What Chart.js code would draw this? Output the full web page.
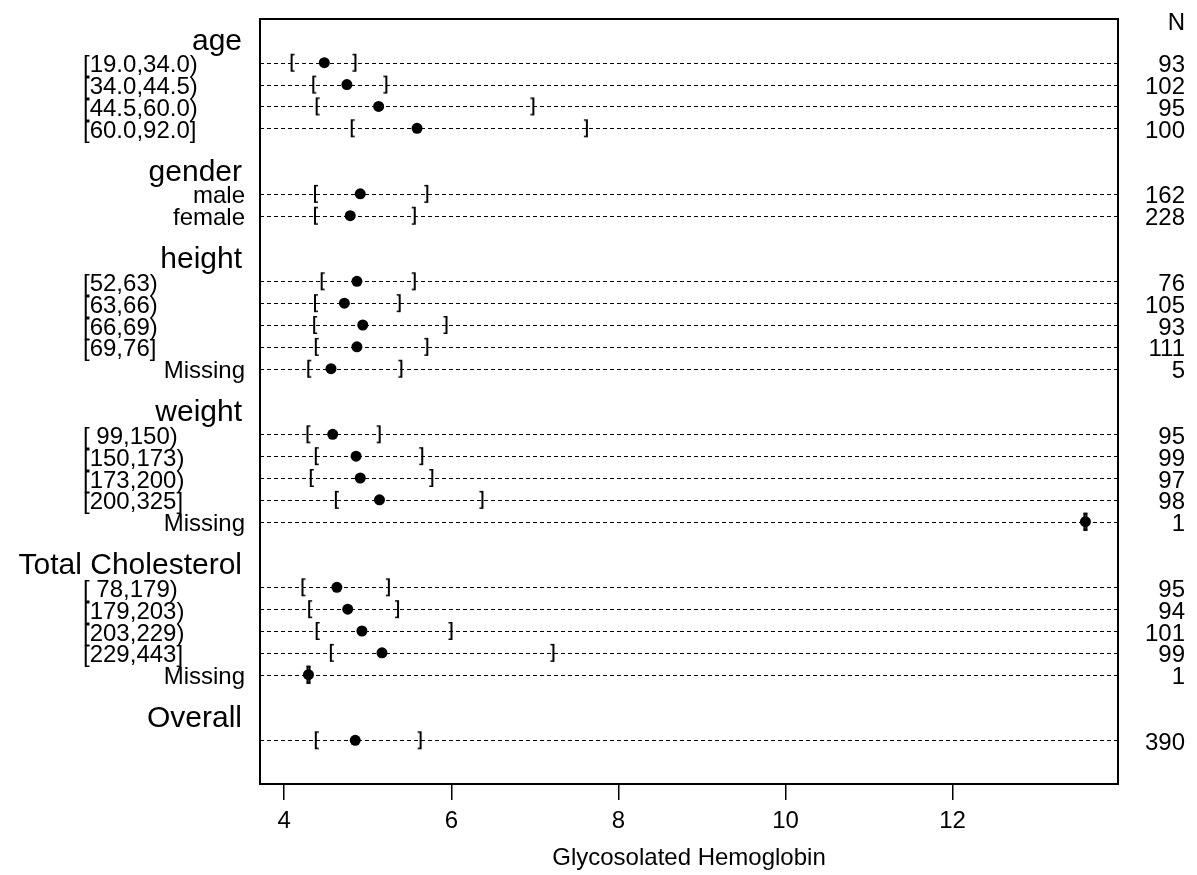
<!DOCTYPE html>
<html><head><meta charset="utf-8">
<script src="https://cdn.jsdelivr.net/npm/chart.js@4"></script>
<style>html,body{margin:0;padding:0;background:#fff;}#wrap{width:1197px;height:875px;position:relative;}</style>
</head><body><div id="wrap"><canvas id="c" width="1197" height="875"></canvas></div>
<script>
const groupNames = ['age', 'gender', 'height', 'weight', 'Total Cholesterol', 'Overall'];
const groupSizes = [4, 2, 5, 5, 5, 1];
const rowLabels = [
  '[19.0,34.0)', '[34.0,44.5)', '[44.5,60.0)', '[60.0,92.0]',
  'male', 'female',
  '[52,63)', '[63,66)', '[66,69)', '[69,76]', 'Missing',
  '[ 99,150)', '[150,173)', '[173,200)', '[200,325]', 'Missing',
  '[ 78,179)', '[179,203)', '[203,229)', '[229,443]', 'Missing',
  ''
];
const medians = [4.48, 4.75, 5.13, 5.59, 4.91, 4.79, 4.87, 4.72, 4.94, 4.87, 4.56, 4.58, 4.86, 4.91, 5.14, 13.59, 4.63, 4.76, 4.93, 5.17, 4.29, 4.85];
const q1Values = [4.10, 4.36, 4.40, 4.82, 4.38, 4.38, 4.46, 4.38, 4.37, 4.39, 4.30, 4.29, 4.39, 4.33, 4.63, 13.59, 4.23, 4.31, 4.40, 4.57, 4.29, 4.39];
const q3Values = [4.84, 5.21, 6.97, 7.61, 5.70, 5.55, 5.55, 5.37, 5.93, 5.70, 5.39, 5.13, 5.64, 5.76, 6.36, 13.59, 5.24, 5.35, 5.99, 7.21, 4.29, 5.62];
const nCounts = [93, 102, 95, 100, 162, 228, 76, 105, 93, 111, 5, 95, 99, 97, 98, 1, 95, 94, 101, 99, 1, 390];
const xTicks = [4, 6, 8, 10, 12];
const xTitle = 'Glycosolated Hemoglobin';
const nHeader = 'N';

// slot layout: group header, its rows, then one blank slot
const groupSlots = [], rowSlots = [];
let slot = 1;
groupSizes.forEach(n => {
  groupSlots.push(slot); slot++;
  for (let i = 0; i < n; i++) { rowSlots.push(slot); slot++; }
  slot++;
});
const yMax = slot;

const FONT = "'Liberation Sans', Arial, Helvetica, sans-serif";

function bracketCanvas(left) {
  const c = document.createElement('canvas');
  c.width = 8; c.height = 22;
  const g = c.getContext('2d');
  g.fillStyle = '#000';
  if (left) { g.fillRect(2, 2, 2, 18); g.fillRect(2, 2, 4, 1.5); g.fillRect(2, 18.5, 4, 1.5); }
  else { g.fillRect(4, 2, 2, 18); g.fillRect(2, 2, 4, 1.5); g.fillRect(2, 18.5, 4, 1.5); }
  return c;
}
const lb = bracketCanvas(true), rb = bracketCanvas(false);

const pts = arr => arr.map((v, i) => ({ x: v, y: rowSlots[i] }));

const decor = {
  id: 'decor',
  beforeDatasetsDraw(chart) {
    const { ctx, chartArea: a, scales: { y } } = chart;
    ctx.save();
    ctx.strokeStyle = '#000'; ctx.lineWidth = 1; ctx.setLineDash([4, 3]);
    rowSlots.forEach(s => {
      const py = Math.round(y.getPixelForValue(s)) + 0.5;
      ctx.beginPath(); ctx.moveTo(a.left, py); ctx.lineTo(a.right, py); ctx.stroke();
    });
    ctx.restore();
  },
  afterDatasetsDraw(chart) {
    const { ctx, chartArea: a, scales: { y } } = chart;
    ctx.save();
    ctx.strokeStyle = '#000'; ctx.lineWidth = 2; ctx.setLineDash([]);
    ctx.strokeRect(a.left, a.top, a.right - a.left, a.bottom - a.top);
    ctx.fillStyle = '#000';
    ctx.textBaseline = 'alphabetic';
    // group labels
    ctx.font = '30px ' + FONT; ctx.textAlign = 'right';
    groupNames.forEach((t, i) => ctx.fillText(t, a.left - 18, y.getPixelForValue(groupSlots[i]) + 9));
    // row labels
    ctx.font = '24px ' + FONT;
    rowLabels.forEach((t, i) => {
      const py = y.getPixelForValue(rowSlots[i]) + 9.5;
      if (t.startsWith('[')) { ctx.textAlign = 'left'; ctx.fillText(t, 83, py); }
      else { ctx.textAlign = 'right'; ctx.fillText(t, a.left - 15, py); }
    });
    // N column
    ctx.textAlign = 'right';
    ctx.fillText(nHeader, 1185, a.top + 11);
    nCounts.forEach((n, i) => ctx.fillText(String(n), 1185, y.getPixelForValue(rowSlots[i]) + 9.5));
    ctx.restore();
  }
};

new Chart(document.getElementById('c'), {
  type: 'scatter',
  data: {
    datasets: [
      { label: 'median', data: pts(medians), pointRadius: 5.5, pointHoverRadius: 5.5, backgroundColor: '#000', borderColor: '#000', borderWidth: 0 },
      { label: 'q1', data: pts(q1Values), pointStyle: lb, backgroundColor: '#000', borderColor: '#000' },
      { label: 'q3', data: pts(q3Values), pointStyle: rb, backgroundColor: '#000', borderColor: '#000' }
    ]
  },
  options: {
    responsive: false, animation: false, devicePixelRatio: 1,
    layout: { padding: { left: 260, right: 79, top: 19, bottom: 0 } },
    plugins: { legend: { display: false }, tooltip: { enabled: false } },
    scales: {
      x: {
        type: 'linear', min: 3.71, max: 13.98,
        afterBuildTicks: sc => { sc.ticks = xTicks.map(v => ({ value: v })); },
        afterFit: sc => { sc.height = 91; },
        ticks: { color: '#000', font: { family: FONT, size: 24 }, padding: 7, maxRotation: 0, includeBounds: false, callback: v => String(v) },
        grid: { drawOnChartArea: false, drawTicks: true, tickLength: 16, color: '#000', lineWidth: 1.5 },
        border: { display: false },
        title: { display: true, text: xTitle, color: '#000', font: { family: FONT, size: 24, lineHeight: 1 }, padding: { top: 0, bottom: 5 } }
      },
      y: { type: 'linear', display: false, min: 0, max: yMax, reverse: true }
    }
  },
  plugins: [decor]
});
</script></body></html>
